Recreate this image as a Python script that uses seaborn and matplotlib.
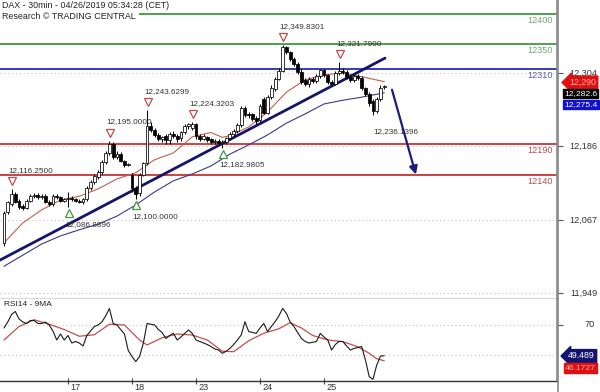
import numpy as np
import pandas as pd
import matplotlib
matplotlib.use("Agg")
import matplotlib.pyplot as plt
import matplotlib.transforms as mtrans
from matplotlib.lines import Line2D
import seaborn as sns

# ---------------- data ----------------
bar_open = [12030, 12080, 12093, 12108, 12097, 12090, 12086, 12098, 12105, 12107,
            12104, 12106, 12096, 12092, 12106, 12104, 12098, 12100, 12103, 12100,
            12098, 12096, 12100, 12118, 12128, 12136, 12144, 12160, 12175, 12189,
            12168, 12174, 12162, 12156, 12140, 12118, 12110, 12140, 12158, 12218,
            12212, 12204, 12198, 12202, 12196, 12205, 12203, 12199, 12208, 12218,
            12216, 12221, 12203, 12198, 12201, 12197, 12193, 12195, 12191, 12193,
            12199, 12206, 12210, 12220, 12247, 12238, 12237, 12232, 12228, 12262,
            12240, 12265, 12278, 12295, 12307, 12346, 12338, 12326, 12318, 12306,
            12292, 12286, 12294, 12291, 12299, 12309, 12300, 12290, 12287, 12304,
            12308, 12306, 12297, 12293, 12299, 12296, 12279, 12270, 12258, 12243,
            12262, 12281]
bar_high = [12082, 12098, 12116.25, 12112, 12100, 12093, 12101, 12108, 12110, 12110,
            12109, 12108, 12099, 12109, 12108, 12106, 12103, 12112, 12106, 12103,
            12101, 12102, 12121, 12131, 12141, 12147, 12163, 12178, 12195, 12192,
            12178, 12176, 12164, 12159, 12143, 12122, 12143, 12161, 12243.63, 12225,
            12216, 12207, 12203, 12206, 12208, 12210, 12206, 12211, 12221, 12223,
            12224.32, 12223, 12206, 12205, 12203, 12199, 12198, 12197, 12196, 12201,
            12208, 12213, 12223, 12250, 12250, 12241, 12240, 12235, 12254, 12265,
            12268, 12284, 12298, 12312, 12349.83, 12348, 12340, 12330, 12322, 12310,
            12296, 12297, 12298, 12302, 12311, 12311, 12302, 12293, 12307, 12321.79,
            12312, 12309, 12300, 12302, 12303, 12299, 12282, 12273, 12262, 12266,
            12284, 12285]
bar_low = [12025, 12076, 12090, 12094, 12085, 12083, 12084, 12096, 12102, 12101,
           12100, 12094, 12089, 12090, 12100, 12096, 12095, 12086.89, 12097, 12095,
           12094, 12093, 12098, 12115, 12125, 12133, 12141, 12157, 12172, 12165,
           12165, 12160, 12153, 12154, 12112, 12100, 12106, 12137, 12155, 12208,
           12200, 12194, 12193, 12189, 12190, 12199, 12192, 12195, 12206, 12214,
           12212, 12198, 12195, 12196, 12193, 12190, 12190, 12188, 12182.98, 12190,
           12196, 12203, 12207, 12217, 12233, 12232, 12226, 12222, 12225, 12238,
           12237, 12262, 12275, 12292, 12305, 12335, 12323, 12315, 12303, 12287,
           12283, 12282, 12288, 12288, 12296, 12297, 12286, 12283, 12285, 12300,
           12302, 12294, 12290, 12290, 12293, 12276, 12267, 12251, 12236.14, 12239,
           12258, 12278]
bar_close = [12078, 12095, 12108, 12096, 12088, 12086, 12098, 12105, 12107, 12104,
             12106, 12096, 12092, 12106, 12104, 12098, 12100, 12103, 12100, 12098,
             12096, 12100, 12118, 12128, 12138, 12144, 12160, 12175, 12190, 12168,
             12173, 12162, 12155, 12157, 12118, 12108, 12140, 12158, 12218, 12212,
             12204, 12197, 12200, 12196, 12205, 12203, 12198, 12208, 12218, 12221,
             12222, 12202, 12198, 12202, 12196, 12193, 12195, 12191, 12193, 12199,
             12206, 12210, 12220, 12247, 12236, 12236, 12230, 12226, 12250, 12240,
             12265, 12280, 12295, 12307, 12346, 12338, 12326, 12318, 12306, 12290,
             12286, 12294, 12291, 12299, 12309, 12300, 12289, 12286, 12304, 12308,
             12305, 12297, 12292, 12299, 12296, 12279, 12270, 12255, 12243, 12262,
             12280, 12282.6]

ma_red_idx = [0, 5, 10, 15, 20, 25, 30, 35, 40, 45, 50, 55, 58, 60, 65, 70, 75, 80, 85, 90, 95, 101]
ma_red_val = [12030, 12062, 12083, 12099, 12105, 12117, 12133, 12143, 12164, 12175, 12201,
              12208, 12200, 12203, 12217, 12241, 12273, 12293, 12301, 12304, 12298, 12290]
ma_blue_idx = [0, 5, 10, 15, 20, 25, 30, 35, 40, 45, 50, 55, 60, 65, 70, 75, 80, 85, 90, 95, 101]
ma_blue_val = [11992, 12010, 12028, 12041, 12051, 12060, 12073, 12091, 12112, 12130, 12141,
               12154, 12173, 12188, 12204, 12223, 12238, 12254, 12260, 12265, 12272]

trend_idx = [-1.06, 101.2]
trend_val = [12002, 12328]
arrow_from = (103.05, 12277)
arrow_to = (109.4, 12140)

levels = [12400, 12350, 12310, 12190, 12140]
level_colors = ["#3f9a3f", "#3f9a3f", "#2a2ab4", "#c83434", "#c83434"]
level_text_colors = ["#6fa86f", "#6fa86f", "#5a5aa6", "#b05050", "#b05050"]

high_idx = [2, 28, 38, 50, 74, 89]
high_val = [12116.25, 12195.0, 12243.6299, 12224.3203, 12349.8301, 12321.79]
high_lab = ["12,116.2500", "12,195.0000", "12,243.6299", "12,224.3203", "12,349.8301", "12,321.7900"]
low_idx = [17, 35, 58]
low_val = [12086.8896, 12100.0, 12182.9805]
low_lab = ["12,086.8896", "12,100.0000", "12,182.9805"]
extra_low_idx = 98
extra_low_val = 12236.1396
extra_low_lab = "12,236.1396"

price_ticks = [11949, 12067, 12186, 12304]
price_tick_labels = ["11,949", "12,067", "12,186", "12,304"]

rsi = [68, 72, 77, 79, 74, 72, 71, 73, 73, 71,
       71, 72, 70, 66, 60, 64, 60, 63, 58, 59,
       58, 56, 63, 66, 69, 70, 72, 76, 81, 71,
       70, 67, 64, 53, 49, 45.6, 49, 57.8, 71, 70.5,
       70, 67, 65, 61, 63, 64.4, 60, 62, 64.4, 66.7,
       64.4, 60, 59, 58, 57, 55.6, 54, 53.3, 51.1, 52.5,
       54.4, 57, 60, 63.3, 72.2, 65.6, 65, 64.4, 68, 71,
       65.6, 69, 72.2, 76, 81, 77.8, 72, 69, 65, 61,
       59, 58, 58.5, 59, 64.4, 62, 60, 53.3, 57, 59,
       59, 56, 53.3, 54.4, 55, 55.6, 46.7, 35.6, 33.8, 43.3,
       49.3, 49.489]
rsi_ma_idx = [0, 4, 8, 12, 16, 20, 24, 28, 32, 36, 38, 42, 46, 50, 54, 58, 61, 65, 69, 73,
              76, 79, 82, 86, 90, 94, 97, 99, 101]
rsi_ma_val = [60, 69, 73.5, 70.5, 67, 62.5, 63.5, 70.5, 70, 60, 56.7, 61.5, 64, 63.3, 60,
              52.5, 52.2, 59.5, 64.5, 67.5, 71.5, 68, 63, 60, 58.9, 55.5, 51.1, 47.5, 46.17]

day_idx = [17, 34, 51, 68, 85]
day_lab = ["17", "18", "23", "24", "25"]

# ---------------- style ----------------
sns.set_theme(style="white")
plt.rcParams["font.family"] = ["Liberation Sans", "DejaVu Sans"]

W, H = 600, 392
fig = plt.figure(figsize=(6, 3.92), dpi=100)
fig.patch.set_facecolor("white")
ax = fig.add_axes([0, 93 / H, 557 / W, 299 / H])
axr = fig.add_axes([0, 11 / H, 557 / W, 82 / H], sharex=ax)

x0, x1 = -1.0624, 146.88
ax.set_xlim(x0, x1)
ax.set_ylim(11939.2, 12421.8)
axr.set_ylim(32.67, 87.33)

def offs(a, dx, dy):
    return mtrans.offset_copy(a.transData, fig=fig, x=dx, y=dy, units="dots")

# grid (dotted)
for t in price_ticks:
    ax.axhline(t, color="#c4c4c4", lw=0.8, ls=(0, (1, 2.5)), zorder=0)
for t in [70, 50]:
    axr.axhline(t, color="#c4c4c4", lw=0.8, ls=(0, (1, 2.5)), zorder=0)

# level lines
blend = mtrans.blended_transform_factory(ax.transAxes, ax.transData)
for lv, c, tc in zip(levels, level_colors, level_text_colors):
    ax.axhline(lv, color=c, lw=1.3, zorder=1)
    ax.text(553 / 557, lv, str(lv), transform=mtrans.offset_copy(blend, fig=fig, x=0, y=-6.5, units="dots"),
            ha="right", va="center", fontsize=6.6, color=tc, zorder=2)

# moving averages & trend line
df_red = pd.DataFrame({"i": ma_red_idx, "v": ma_red_val})
df_blue = pd.DataFrame({"i": ma_blue_idx, "v": ma_blue_val})
sns.lineplot(data=df_red, x="i", y="v", ax=ax, color="#c0604f", lw=0.8, zorder=3)
sns.lineplot(data=df_blue, x="i", y="v", ax=ax, color="#3a3a8c", lw=0.8, zorder=3)
sns.lineplot(x=trend_idx, y=trend_val, ax=ax, color="#141468", lw=2.0, zorder=4)

# candles
for i, (o, h, l, c) in enumerate(zip(bar_open, bar_high, bar_low, bar_close)):
    ax.vlines(i, l, h, color="black", lw=0.7, zorder=5)
    up = c >= o
    body = max(abs(c - o), 1.2)
    ax.bar(i, body, bottom=min(o, c), width=0.76, color="white" if up else "black",
           edgecolor="black", linewidth=0.55, zorder=6)

# arrow
ax.annotate("", xy=arrow_to, xytext=arrow_from,
            arrowprops=dict(arrowstyle="-|>", color="#1c1c7c", lw=1.6, mutation_scale=12,
                            shrinkA=0, shrinkB=0), zorder=7)

# swing markers and labels
for i, v, lab in zip(high_idx, high_val, high_lab):
    ax.plot([i], [v], marker="v", ms=6, mfc="white", mec="#c44a4a", mew=0.9,
            transform=offs(ax, 0.5, 8), zorder=8, ls="none")
    ax.text(i, v, lab, transform=offs(ax, -3, 18.5), ha="left", va="center",
            fontsize=5.9, color="#333333", zorder=8)
for i, v, lab in zip(low_idx, low_val, low_lab):
    ax.plot([i], [v], marker="^", ms=6, mfc="white", mec="#3f9a3f", mew=0.9,
            transform=offs(ax, 0.5, -6), zorder=8, ls="none")
    ax.text(i, v, lab, transform=offs(ax, -3, -17), ha="left", va="center",
            fontsize=5.9, color="#333333", zorder=8)
ax.text(extra_low_idx, extra_low_val, extra_low_lab, transform=offs(ax, 0, -17),
        ha="left", va="center", fontsize=5.9, color="#333333", zorder=8)

# RSI panel
df_rsi = pd.DataFrame({"i": np.arange(len(rsi)), "v": rsi})
df_rsim = pd.DataFrame({"i": rsi_ma_idx, "v": rsi_ma_val})
sns.lineplot(data=df_rsim, x="i", y="v", ax=axr, color="#c0504d", lw=0.9, zorder=3)
sns.lineplot(data=df_rsi, x="i", y="v", ax=axr, color="#1a1a1a", lw=0.8, zorder=4)

# axes cosmetics
for a in (ax, axr):
    a.set_xlabel("")
    a.set_ylabel("")
    a.spines["top"].set_visible(False)
    a.spines["left"].set_visible(False)
    a.spines["right"].set_color("#8a8a8a")
    a.spines["right"].set_linewidth(1.2)
    a.spines["bottom"].set_color("#333333")
    a.spines["bottom"].set_linewidth(1.0)
    a.set_facecolor("white")

ax.set_yticks(price_ticks)
ax.tick_params(axis="y", left=False, right=True, labelleft=False, labelright=False,
               direction="out", length=4, width=0.8, colors="#555555")
ax.tick_params(axis="x", bottom=False, labelbottom=False)
axr.set_yticks([70])
axr.tick_params(axis="y", left=False, right=True, labelleft=False, labelright=False,
                direction="out", length=4, width=0.8, colors="#555555")
axr.set_xticks(day_idx)
axr.tick_params(axis="x", bottom=True, labelbottom=False, direction="inout", length=5,
                width=0.8, colors="#444444")

# right tick labels (right-aligned)
for t, lab in zip(price_ticks, price_tick_labels):
    yy = ax.transData.transform((0, t))[1] / (H * 1.0)
    fig.text(597 / W, yy, lab, ha="right", va="center", fontsize=6.6, color="#333333")
yy = axr.transData.transform((0, 70))[1] / H
fig.text(595 / W, yy, "70", ha="right", va="center", fontsize=6.6, color="#333333")

# date labels
bl = mtrans.blended_transform_factory(axr.transData, axr.transAxes)
for d, lab in zip(day_idx, day_lab):
    axr.text(d, 0, lab, transform=mtrans.offset_copy(bl, fig=fig, x=2, y=-6, units="dots"),
             ha="left", va="center", fontsize=6.6, color="#333333", clip_on=False)

# full-height right axis line
fig.add_artist(Line2D([557.5 / W, 557.5 / W], [0, 1], transform=fig.transFigure,
                      color="#8a8a8a", lw=1.2))

# titles
fig.text(2 / W, 1 - 6 / H, "DAX - 30min - 04/26/2019 05:34:28 (CET)", ha="left", va="center",
         fontsize=6.4, color="#222222")
fig.text(2 / W, 1 - 16.5 / H, "Research \u00a9 TRADING CENTRAL", ha="left", va="center",
         fontsize=6.4, color="#222222",
         bbox=dict(boxstyle="square,pad=0.35", fc="white", ec="none"))
fig.text(4 / W, 1 - 305 / H, "RSI14 - 9MA", ha="left", va="center", fontsize=6.0, color="#222222")

# value boxes
fig.text(569 / W, 1 - 82.5 / H, "12,290", ha="left", va="center", fontsize=6.3, color="#ffb0b0",
         bbox=dict(boxstyle="larrow,pad=0.22", fc="#e01010", ec="#e01010"))
fig.text(564 / W, 1 - 93.5 / H, "12,282.6", ha="left", va="center", fontsize=6.1, color="white",
         bbox=dict(boxstyle="square,pad=0.15", fc="black", ec="black"))
fig.text(564 / W, 1 - 104.5 / H, "12,275.4", ha="left", va="center", fontsize=6.1, color="white",
         bbox=dict(boxstyle="square,pad=0.15", fc="#1010d0", ec="#1010d0"))
fig.text(568 / W, 1 - 356 / H, "49.489", ha="left", va="center", fontsize=6.3, color="white",
         bbox=dict(boxstyle="larrow,pad=0.22", fc="#14146e", ec="#14146e"))
fig.text(565 / W, 1 - 368 / H, "46.1727", ha="left", va="center", fontsize=6.1, color="#ffb0b0",
         bbox=dict(boxstyle="square,pad=0.15", fc="#e01010", ec="#e01010"))

fig.savefig("out.png", dpi=100, facecolor="white")
